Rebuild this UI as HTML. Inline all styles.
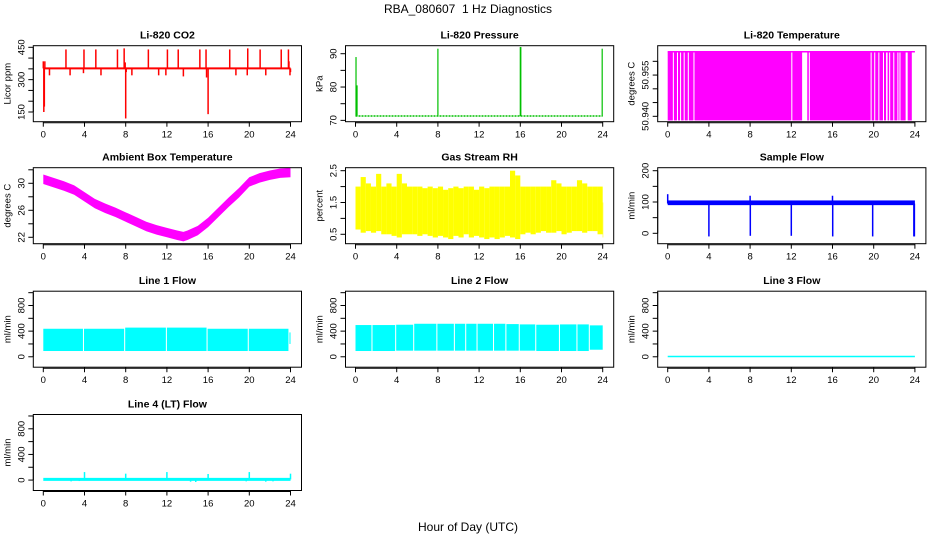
<!DOCTYPE html>
<html><head><meta charset="utf-8"><style>
html,body{margin:0;padding:0;background:#fff}
svg{display:block;font-family:"Liberation Sans",sans-serif}
</style></head><body>
<svg id="chart" width="936" height="540" viewBox="0 0 936 540">
<text x="468" y="13" text-anchor="middle" font-size="12">RBA_080607&#160; 1 Hz Diagnostics</text>
<text x="468" y="531" text-anchor="middle" font-size="12">Hour of Day (UTC)</text>
</svg>
<script>
// ---- data arrays ----
const xTicks = [0,4,8,12,16,20,24];
// CO2
const co2Base = 352;
const co2SpikeHours = [0.0,0.05,0.1,0.15,0.6,2.2,2.6,3.9,3.95,5.1,5.6,7.2,7.85,7.95,8.0,8.05,8.6,10.2,11.2,11.9,12.05,13.1,13.6,15.2,15.8,15.85,16.0,18.1,18.7,19.8,19.85,21.05,21.6,23.1,23.8,23.85,23.95,24.0];
const co2SpikeVals  = [385,150,175,385,320,440,320,330,440,440,320,440,445,380,120,335,320,440,320,320,440,440,315,440,440,310,140,440,320,320,445,440,320,440,440,385,320,335];
// Pressure
const presBase = 71.3;
const presSpikeHours = [0.05,0.15,8.0,16.0,16.05,23.95];
const presSpikeVals  = [89,80.5,91.5,92,92,91.5];
// Li-820 temperature segments
const tempSegStart = [0,0.6,1.0,1.3,1.65,2.05,2.6,12.1,13.55,13.8,19.8,20.15,20.55,21.0,21.35,21.6,22.0,22.4,22.6,23.3];
const tempSegEnd   = [0.5,0.9,1.2,1.55,1.95,2.5,12.0,13.05,13.7,19.7,20.05,20.45,20.9,21.2,21.5,21.9,22.3,22.5,23.1,23.7];
const tempHi = 50.9635, tempLo = 50.9385;
// Ambient box temperature
const ambHours = [0,1,2,3,4,5,6,7,8,9,10,11,12,13,13.6,14,15,16,17,18,19,20,21,22,23,24];
const ambHi = [31.3,30.8,30.3,29.7,28.7,27.7,27.0,26.4,25.7,25.0,24.3,23.8,23.4,23.0,22.8,23.0,23.7,24.9,26.4,27.9,29.3,30.9,31.5,31.9,32.2,32.3];
const ambLo = [29.9,29.4,28.9,28.3,27.3,26.3,25.6,25.0,24.3,23.6,22.9,22.4,22.0,21.6,21.4,21.6,22.3,23.5,25.0,26.5,27.9,29.5,30.1,30.5,30.8,30.9];
// Gas stream RH (0.5 h bins)
const rhHi = [2.0,2.3,2.1,2.0,2.4,2.0,2.1,2.0,2.4,2.1,2.0,2.0,2.0,1.95,2.0,1.95,2.0,1.9,1.95,2.0,1.95,2.0,2.0,1.9,2.0,1.95,2.0,2.0,2.0,2.0,2.5,2.35,2.0,2.0,2.0,2.0,2.0,2.0,2.2,2.1,2.0,2.0,2.0,2.2,2.1,2.0,2.0,2.0,1.5];
const rhLo = [0.65,0.55,0.6,0.55,0.6,0.5,0.5,0.45,0.4,0.5,0.5,0.5,0.45,0.5,0.45,0.4,0.45,0.4,0.35,0.45,0.4,0.5,0.4,0.45,0.4,0.35,0.4,0.35,0.4,0.45,0.4,0.35,0.5,0.55,0.5,0.55,0.6,0.55,0.55,0.6,0.5,0.55,0.6,0.6,0.55,0.6,0.6,0.5,0.4];
// Sample flow
const sfLo = 90, sfHi = 105;
const sfSpikeHours = [0.0,4.0,8.0,8.02,12.0,16.0,16.02,19.9,23.9,23.95];
const sfSpikeVals  = [125,-10,120,-8,-8,120,-10,-10,-10,-10];
// Line 1 flow segments
const l1Start = [0,3.95,7.95,12.0,15.95,19.95,23.9];
const l1End   = [3.85,7.85,11.9,15.85,19.85,23.8,24.0];
const l1Hi    = [437,437,455,455,437,437,380];
const l1Lo    = [90,90,90,90,90,90,200];
// Line 2 flow segments
const l2Start = [0,1.65,3.95,5.7,7.95,9.65,10.75,11.85,13.45,14.65,15.95,17.55,19.85,21.55,22.75];
const l2End   = [1.55,3.85,5.6,7.85,9.55,10.65,11.75,13.35,14.55,15.85,17.45,19.75,21.45,22.65,24.0];
const l2Hi    = [495,495,500,515,515,515,515,515,515,510,505,500,505,505,490];
const l2Lo    = [90,90,95,95,95,95,95,95,95,95,95,90,90,90,110];
// Line 3 flow
const l3Level = 5;
// Line 4 flow
const l4Level = 10;
const l4SpikeHours = [4.0,8.0,12.0,16.0,20.0,24.0,2.7,3.5,14.3,14.8,19.7,21.6,22.3];
const l4SpikeVals  = [125,100,125,95,125,100,-20,-15,-25,-30,-20,-25,-20];

// ---- layout ----
const NS = "http://www.w3.org/2000/svg";
const svg = document.getElementById('chart');
const colX0 = [43.3, 355.5, 667.7];
const rowTop = [45.7, 167.7, 291.2, 414.5];
const XW = 247.2, BOXH = 76;
function mk(tag, attrs, parent){
  const e = document.createElementNS(NS, tag);
  for (const k in attrs) e.setAttribute(k, attrs[k]);
  (parent||svg).appendChild(e); return e;
}
function panel(r, c, title, ylab, ymin, ymax, ticks, labels, name){
  const g = mk('g', {});
  
  
  const x0 = colX0[c], top = rowTop[r];
  const bl = x0 - 10, br = x0 + XW + 11;
  const sx = h => x0 + h / 24 * XW;
  const sy = v => top + (ymax - v) / (ymax - ymin) * BOXH;
  const t = mk('text', {x:(bl+br)/2, y: top-7, 'text-anchor':'middle', 'font-size':'10.5', 'font-weight':'bold'}, g);
  t.textContent = title;
  
  
  const plot = mk('g', {}, g);
  
  
  const box = mk('rect', {x:bl, y:top, width:br-bl, height:BOXH, fill:'none', stroke:'#000', 'stroke-width':'1'}, g);
  
  
  const xa = mk('g', {}, g);
  
  
  mk('line', {x1:sx(0), x2:sx(24), y1:top+BOXH+1, y2:top+BOXH+1, stroke:'#000'}, xa);
  xTicks.forEach(h => {
    mk('line', {x1:sx(h), x2:sx(h), y1:top+BOXH, y2:top+BOXH+5, stroke:'#000'}, xa);
    const tl = mk('text', {x:sx(h), y:top+BOXH+16, 'text-anchor':'middle', 'font-size':'9.5'}, xa);
    tl.textContent = h;
  });
  const ya = mk('g', {}, g);
  
  
  mk('line', {x1:bl, x2:bl, y1:sy(ticks[0]), y2:sy(ticks[ticks.length-1]), stroke:'#000'}, ya);
  ticks.forEach((v,i) => {
    mk('line', {x1:bl-5, x2:bl, y1:sy(v), y2:sy(v), stroke:'#000'}, ya);
    if (labels[i] !== '') {
      const yl = mk('text', {x:0, y:0, 'text-anchor':'middle', 'font-size':'9.5', transform:`translate(${bl-9},${sy(v)}) rotate(-90)`}, ya);
      yl.textContent = labels[i];
    }
  });
  const yt = mk('text', {x:0,y:0,'text-anchor':'middle','font-size':'9.5', transform:`translate(${bl-23},${top+BOXH/2}) rotate(-90)`}, ya);
  yt.textContent = ylab;
  
  
  return {plot, sx, sy};
}
function vline(p, x, y1, y2, color, w){ mk('line', {x1:x, x2:x, y1:y1, y2:y2, stroke:color, 'stroke-width':w}, p); }
function rect(p, x1, x2, y1, y2, color){ mk('rect', {x:Math.min(x1,x2), y:Math.min(y1,y2), width:Math.abs(x2-x1), height:Math.max(1,Math.abs(y2-y1)), fill:color}, p); }

(function(){
  const P = panel(0,0,'Li-820 CO2','Licor ppm',105,457.4,[150,200,250,300,350,400,450],['150','','','300','','','450'],'co2');
  co2SpikeHours.forEach((h,i)=> vline(P.plot, P.sx(h), P.sy(co2Base), P.sy(co2SpikeVals[i]), '#ff0000', 1.5));
  mk('line',{x1:P.sx(0),x2:P.sx(24),y1:P.sy(co2Base),y2:P.sy(co2Base),stroke:'#ff0000','stroke-width':2}, P.plot);
})();
(function(){
  const P = panel(0,1,'Li-820 Pressure','kPa',69.6,92.4,[70,75,80,85,90],['70','','80','','90'],'pressure');
  mk('line',{x1:P.sx(0),x2:P.sx(24),y1:P.sy(presBase),y2:P.sy(presBase),stroke:'#00c000','stroke-width':1.5,'stroke-dasharray':'2 1'}, P.plot);
  presSpikeHours.forEach((h,i)=> vline(P.plot, P.sx(h), P.sy(presBase), P.sy(presSpikeVals[i]), '#00c000', 1.2));
})();
(function(){
  const P = panel(0,2,'Li-820 Temperature','degrees C',50.93804,50.96568,[50.940,50.945,50.950,50.955,50.960],['50.940','','','50.955',''],'li820-temp');
  tempSegStart.forEach((s,i)=> rect(P.plot, P.sx(s), P.sx(tempSegEnd[i]), P.sy(tempHi), P.sy(tempLo), '#ff00ff'));
  mk('line',{x1:P.sx(0),x2:P.sx(24),y1:P.sy(tempHi),y2:P.sy(tempHi),stroke:'#ff00ff','stroke-width':1.5}, P.plot);
})();
(function(){
  const P = panel(1,0,'Ambient Box Temperature','degrees C',21.05,32.31,[22,24,26,28,30,32],['22','','26','','30',''],'ambient-temp');
  let pts = ambHours.map((h,i)=>P.sx(h)+','+P.sy(ambHi[i]));
  for (let i=ambHours.length-1;i>=0;i--) pts.push(P.sx(ambHours[i])+','+P.sy(ambLo[i]));
  mk('polygon',{points:pts.join(' '),fill:'#ff00ff'}, P.plot);
})();
(function(){
  const P = panel(1,1,'Gas Stream RH','percent',0.204,2.594,[0.5,1.0,1.5,2.0,2.5],['0.5','','1.5','','2.5'],'gas-rh');
  rhHi.forEach((v,i)=>{
    const h0 = i*0.5, h1 = Math.min(24.05, h0+0.5);
    rect(P.plot, P.sx(h0), P.sx(h1), P.sy(v), P.sy(rhLo[i]), '#ffff00');
  });
})();
(function(){
  const P = panel(1,2,'Sample Flow','ml/min',-33.2,209.6,[0,50,100,150,200],['0','','100','','200'],'sample-flow');
  rect(P.plot, P.sx(0), P.sx(24), P.sy(sfHi), P.sy(sfLo), '#0000ff');
  sfSpikeHours.forEach((h,i)=> vline(P.plot, P.sx(h), P.sy(95), P.sy(sfSpikeVals[i]), '#0000ff', 1.5));
})();
const flowTicks = [0,200,400,600,800,1000], flowLabels = ['0','','400','','800',''];
(function(){
  const P = panel(2,0,'Line 1 Flow','ml/min',-162.6,1023,flowTicks,flowLabels,'line1-flow');
  l1Start.forEach((s,i)=> rect(P.plot, P.sx(s), P.sx(l1End[i]), P.sy(l1Hi[i]), P.sy(l1Lo[i]), '#00ffff'));
})();
(function(){
  const P = panel(2,1,'Line 2 Flow','ml/min',-162.6,1023,flowTicks,flowLabels,'line2-flow');
  l2Start.forEach((s,i)=> rect(P.plot, P.sx(s), P.sx(l2End[i]), P.sy(l2Hi[i]), P.sy(l2Lo[i]), '#00ffff'));
})();
(function(){
  const P = panel(2,2,'Line 3 Flow','ml/min',-162.6,1023,flowTicks,flowLabels,'line3-flow');
  mk('line',{x1:P.sx(0),x2:P.sx(24),y1:P.sy(l3Level),y2:P.sy(l3Level),stroke:'#00ffff','stroke-width':1.5}, P.plot);
})();
(function(){
  const P = panel(3,0,'Line 4 (LT) Flow','ml/min',-162.6,1023,flowTicks,flowLabels,'line4-flow');
  mk('line',{x1:P.sx(0),x2:P.sx(24),y1:P.sy(l4Level),y2:P.sy(l4Level),stroke:'#00ffff','stroke-width':3}, P.plot);
  l4SpikeHours.forEach((h,i)=> vline(P.plot, P.sx(h), P.sy(l4Level), P.sy(l4SpikeVals[i]), '#00ffff', 1.5));
})();
</script>
</body></html>
